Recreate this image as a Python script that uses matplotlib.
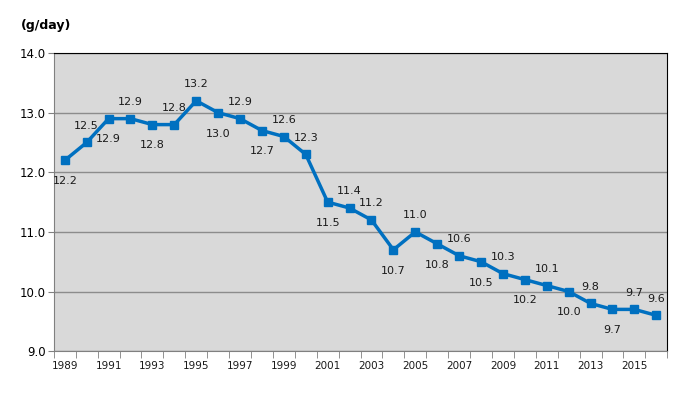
import numpy as np
import matplotlib.pyplot as plt

# data
years = list(range(1989, 2017))
values = [12.2, 12.5, 12.9, 12.9, 12.8, 12.8, 13.2, 13.0, 12.9, 12.7,
          12.6, 12.3, 11.5, 11.4, 11.2, 10.7, 11.0, 10.8, 10.6, 10.5,
          10.3, 10.2, 10.1, 10.0, 9.8, 9.7, 9.7, 9.6]
y_ticks = [9.0, 10.0, 11.0, 12.0, 13.0, 14.0]
unit_label = "(g/day)"

# label placement: 1 = above, -1 = below
label_side = [-1, 1, -1, 1, -1, 1, 1, -1, 1, -1,
              1, 1, -1, 1, 1, -1, 1, -1, 1, -1,
              1, -1, 1, -1, 1, -1, 1, 1]

fig = plt.figure(figsize=(6.9, 3.99), dpi=100)
ax = fig.add_axes([0.078, 0.12, 0.889, 0.747])
ax.set_facecolor("#D9D9D9")

x = np.arange(len(years))
ax.plot(x, values, color="#0070C0", lw=2.5, marker="s", ms=6, zorder=3)

for xi, v, s in zip(x, values, label_side):
    dy = 12 if s > 0 else -15
    ax.annotate(f"{v:.1f}", (xi, v), xytext=(0, dy), textcoords="offset points",
                ha="center", va="center", fontsize=8, color="#1a1a1a")

ax.set_xlim(-0.5, len(years) - 0.5)
ax.set_ylim(9.0, 14.0)
ax.set_yticks(y_ticks)
ax.set_yticklabels([f"{t:.1f}" for t in y_ticks], fontsize=8.5)
ax.yaxis.grid(True, color="#8C8C8C", lw=1)
ax.set_axisbelow(True)

ax.set_xticks(x[::2])
ax.set_xticklabels([str(y) for y in years[::2]], fontsize=7.5, color="#1a1a1a")
ax.set_xticks(np.arange(len(years) + 1) - 0.5, minor=True)
ax.tick_params(axis="x", which="major", length=0, pad=7)
ax.tick_params(axis="x", which="minor", length=5, color="#808080", direction="out")
ax.tick_params(axis="y", length=4, color="#808080", pad=2)

for side in ["left", "bottom"]:
    ax.spines[side].set_color("#808080")
for side in ["top", "right"]:
    ax.spines[side].set_color("black")

fig.text(0.03, 0.935, unit_label, fontsize=9, fontweight="bold", va="center")

fig.savefig("out.png", dpi=100)
